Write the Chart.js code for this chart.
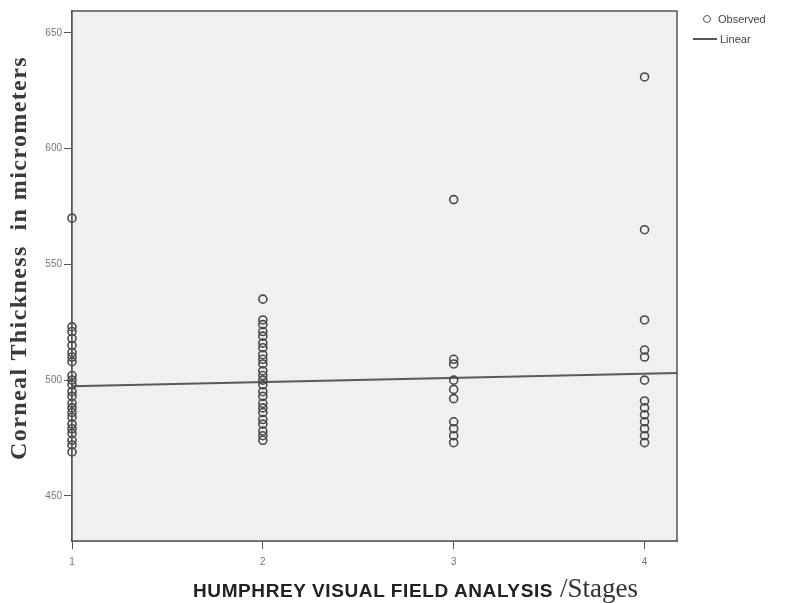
<!DOCTYPE html>
<html>
<head>
<meta charset="utf-8">
<script src="https://cdn.jsdelivr.net/npm/chart.js@4.4.1/dist/chart.umd.min.js"></script>
<style>
  html, body { margin: 0; padding: 0; background: #fff; }
  #wrap { position: relative; width: 792px; height: 603px; overflow: hidden; }
  canvas { display: block; }
  .ytitle { position: absolute; left: -230px; top: 243px; width: 500px; height: 30px; line-height: 30px;
            text-align: center; transform: rotate(-90deg); white-space: nowrap;
            font: bold 24px 'Liberation Serif', 'Times New Roman', serif; letter-spacing: 1.4px; color: #3a3a3a; }
  .xtitle { position: absolute; left: 193px; top: 573px; white-space: nowrap; color: #222; }
  .xtitle .main { font: bold 19px 'Liberation Sans', Arial, sans-serif; letter-spacing: 0.6px; }
  .xtitle .sub { font: 27px 'Liberation Serif', 'Times New Roman', serif; margin-left: 7px; color: #333; }
  .legend { position: absolute; left: 693px; top: 9px; font: 11px 'Liberation Sans', Arial, sans-serif; color: #444; }
  .legend div { height: 20px; line-height: 20px; display: flex; align-items: center; }
  .legend .dot { width: 6px; height: 6px; border: 1.5px solid #555; border-radius: 50%; margin: 0 7px 0 10px; }
  .legend .ln { width: 24px; height: 2px; background: #555; margin-right: 3px; }
</style>
</head>
<body>
<div id="wrap">
  <canvas id="chart" width="792" height="603"></canvas>
  <div class="ytitle">Corneal Thickness&nbsp;&nbsp;in micrometers</div>
  <div class="legend">
    <div><span class="dot"></span>Observed</div>
    <div><span class="ln"></span>Linear</div>
  </div>
  <div class="xtitle"><span class="main">HUMPHREY VISUAL FIELD ANALYSIS</span><span class="sub">/Stages</span></div>
</div>
<script>
// stages on the x axis
const stages = [1, 2, 3, 4];
const xTicks = [1, 2, 3, 4];
const yTicks = [450, 500, 550, 600, 650];

// corneal thickness (micrometers) per stage
const stage1 = [570, 523, 521, 518, 515, 512, 510, 508, 502, 500, 498, 495, 493, 490, 488, 486, 484, 481, 479, 477, 474, 472, 469];
const stage2 = [535, 526, 524, 521, 519, 516, 514, 511, 509, 507, 504, 502, 500, 498, 495, 493, 490, 488, 486, 483, 481, 478, 476, 474];
const stage3 = [578, 509, 507, 500, 496, 492, 482, 479, 476, 473];
const stage4 = [631, 565, 526, 513, 510, 500, 491, 488, 485, 482, 479, 476, 473];

// linear fit as shown on the plot
const fitIntercept = 495.6;
const fitSlope = 1.8;

const X_MIN = 1, X_MAX = 4.17;
const Y_MIN = 430.5, Y_MAX = 659.5;

const observed = [];
[stage1, stage2, stage3, stage4].forEach((vals, i) => {
  vals.forEach(v => observed.push({ x: stages[i], y: v }));
});
const linear = [X_MIN, X_MAX].map(x => ({ x: x, y: fitIntercept + fitSlope * x }));

const framePlugin = {
  id: 'frame',
  beforeDatasetsDraw(chart) {
    const { ctx, chartArea: a } = chart;
    ctx.save();
    ctx.fillStyle = '#f0f0f0';
    ctx.fillRect(a.left, a.top, a.right - a.left, a.bottom - a.top);
    ctx.restore();
  },
  afterDraw(chart) {
    const { ctx, chartArea: a } = chart;
    ctx.save();
    ctx.strokeStyle = '#555';
    ctx.lineWidth = 1.5;
    ctx.strokeRect(a.left, a.top, a.right - a.left, a.bottom - a.top);
    ctx.restore();
  }
};

new Chart(document.getElementById('chart'), {
  type: 'scatter',
  data: {
    datasets: [
      {
        label: 'Observed',
        data: observed,
        pointStyle: 'circle',
        pointRadius: 4,
        pointBorderWidth: 1.6,
        borderColor: '#484848',
        backgroundColor: 'rgba(0,0,0,0)',
        clip: false
      },
      {
        label: 'Linear',
        type: 'line',
        data: linear,
        borderColor: '#5a5a5a',
        borderWidth: 2,
        pointRadius: 0,
        fill: false
      }
    ]
  },
  options: {
    responsive: false,
    animation: false,
    layout: { padding: { top: 11, right: 115, bottom: 32, left: 0 } },
    plugins: { legend: { display: false }, tooltip: { enabled: false } },
    scales: {
      x: {
        type: 'linear',
        min: X_MIN,
        max: X_MAX,
        afterBuildTicks: s => { s.ticks = xTicks.map(v => ({ value: v })); },
        afterFit: s => { s.height = 30; },
        grid: { display: true, drawOnChartArea: false, drawTicks: true, tickLength: 8, color: '#555' },
        border: { display: true, color: '#555', width: 1.5 },
        ticks: { color: '#777', font: { size: 10, family: 'Liberation Sans' }, padding: 7 }
      },
      y: {
        min: Y_MIN,
        max: Y_MAX,
        afterBuildTicks: s => { s.ticks = yTicks.map(v => ({ value: v })); },
        afterFit: s => { s.width = 72; },
        grid: { display: true, drawOnChartArea: false, drawTicks: true, tickLength: 8, color: '#555' },
        border: { display: true, color: '#555', width: 1.5 },
        ticks: { color: '#777', font: { size: 10, family: 'Liberation Sans' }, padding: 2 }
      }
    }
  },
  plugins: [framePlugin]
});
</script>
</body>
</html>
